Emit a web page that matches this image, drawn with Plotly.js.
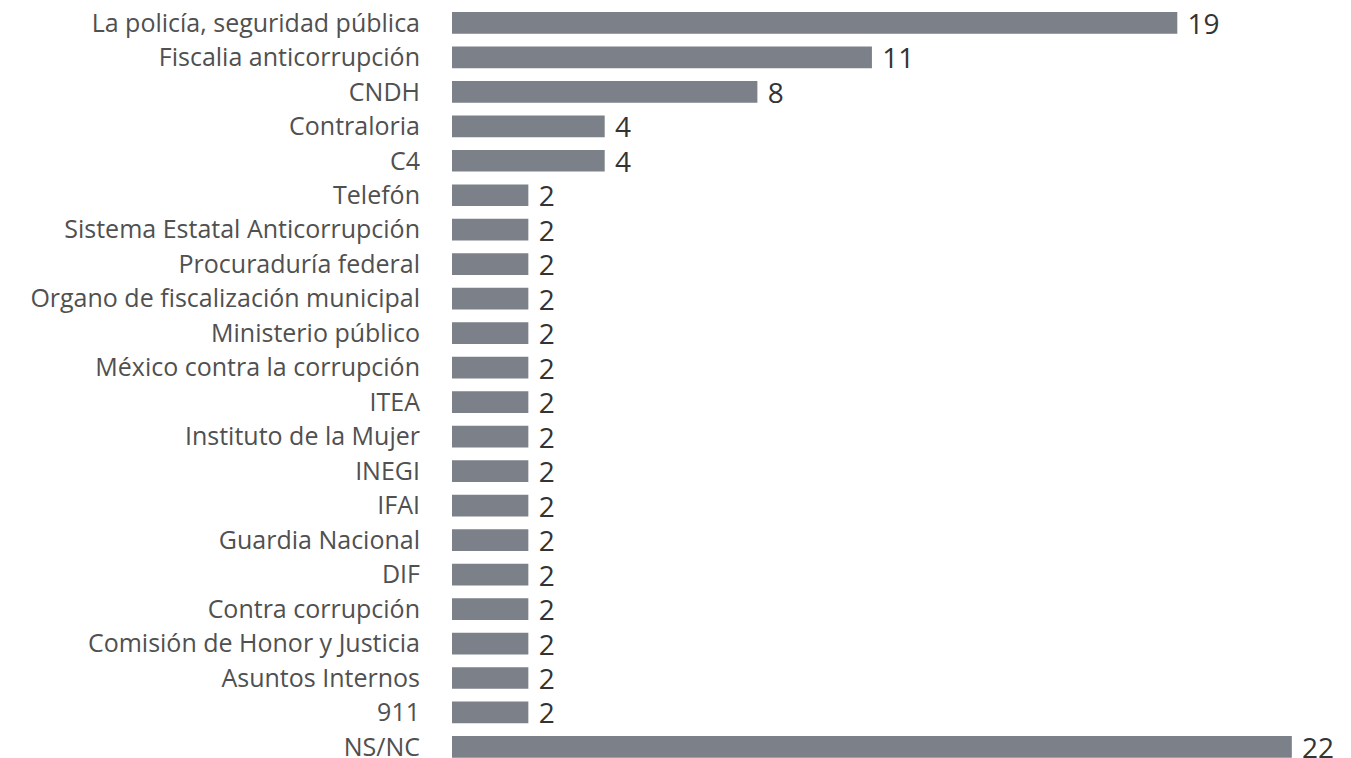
<!DOCTYPE html>
<html><head><meta charset="utf-8">
<script src="https://cdn.plot.ly/plotly-3.0.1.min.js"></script>
<style>body{margin:0;background:#fff}#c{width:1351px;height:758px}</style>
</head><body><div id="c"></div>
<script>
const categories = ["La policía, seguridad pública","Fiscalia anticorrupción","CNDH","Contraloria","C4","Telefón","Sistema Estatal Anticorrupción","Procuraduría federal","Organo de fiscalización municipal","Ministerio público","México contra la corrupción","ITEA","Instituto de la Mujer","INEGI","IFAI","Guardia Nacional","DIF","Contra corrupción","Comisión de Honor y Justicia","Asuntos Internos","911","NS/NC"];
const values = [19,11,8,4,4,2,2,2,2,2,2,2,2,2,2,2,2,2,2,2,2,22];

Plotly.newPlot('c', [{
  type:'bar', orientation:'h', y:categories, x:values,
  marker:{color:'#7b8089'}, width:0.63,
  text:values.map(v => '\u00a0' + v), textposition:'outside', cliponaxis:false,
  constraintext:'none',
  textfont:{family:'"Open Sans", sans-serif', size:28, color:'#333'},
  hoverinfo:'none'
}], {
  width:1351, height:758,
  margin:{l:452, r:0, t:0, b:0},
  paper_bgcolor:'#fff', plot_bgcolor:'#fff',
  showlegend:false,
  xaxis:{range:[0,23.55], visible:false, fixedrange:true},
  yaxis:{type:'category', range:[21.32,-0.662], showgrid:false, zeroline:false, showline:false,
    ticks:'outside', ticklen:26, tickcolor:'rgba(0,0,0,0)',
    tickfont:{family:'"Open Sans", sans-serif', size:25, color:'#505050'}}
}, {displayModeBar:false, staticPlot:true});
</script></body></html>
